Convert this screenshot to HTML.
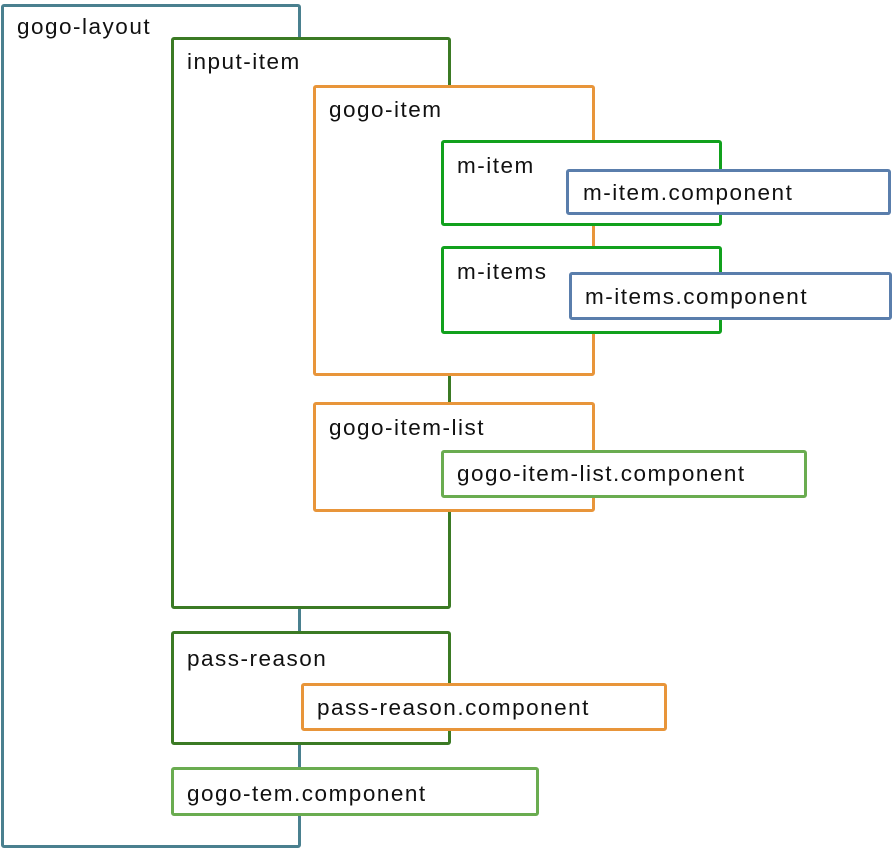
<!DOCTYPE html>
<html><head><meta charset="utf-8"><style>
body{margin:0;width:894px;height:850px;background:#fff;position:relative;overflow:hidden;font-family:"Liberation Sans",sans-serif;}
.b{position:absolute;box-sizing:border-box;border:3.5px solid;background:#fff;border-radius:3px;}
.t{position:absolute;font-size:22.5px;letter-spacing:1.5px;line-height:24px;color:#111;white-space:nowrap;}
</style></head><body>
<div class="b" style="left:1px;top:4px;width:300px;height:844px;border-color:#4a808f"></div>
<span class="t" style="left:17px;top:15px">gogo-layout</span>

<div class="b" style="left:171px;top:37px;width:280px;height:572px;border-color:#3b7a24"></div>
<span class="t" style="left:187px;top:50px">input-item</span>

<div class="b" style="left:313px;top:85px;width:282px;height:291px;border-color:#e8953a"></div>
<span class="t" style="left:329px;top:98px">gogo-item</span>

<div class="b" style="left:441px;top:140px;width:281px;height:86px;border-color:#11a11d"></div>
<span class="t" style="left:457px;top:154px">m-item</span>
<div class="b" style="left:566px;top:169px;width:325px;height:46px;border-color:#5a7eac"></div>
<span class="t" style="left:583px;top:181px">m-item.component</span>

<div class="b" style="left:441px;top:246px;width:281px;height:88px;border-color:#11a11d"></div>
<span class="t" style="left:457px;top:260px">m-items</span>
<div class="b" style="left:569px;top:272px;width:323px;height:48px;border-color:#5a7eac"></div>
<span class="t" style="left:585px;top:285px">m-items.component</span>

<div class="b" style="left:313px;top:402px;width:282px;height:110px;border-color:#e8953a"></div>
<span class="t" style="left:329px;top:416px">gogo-item-list</span>
<div class="b" style="left:441px;top:450px;width:366px;height:48px;border-color:#6aac50"></div>
<span class="t" style="left:457px;top:462px">gogo-item-list.component</span>

<div class="b" style="left:171px;top:631px;width:280px;height:114px;border-color:#3b7a24"></div>
<span class="t" style="left:187px;top:647px">pass-reason</span>
<div class="b" style="left:301px;top:683px;width:366px;height:48px;border-color:#e8953a"></div>
<span class="t" style="left:317px;top:696px">pass-reason.component</span>

<div class="b" style="left:171px;top:767px;width:368px;height:49px;border-color:#6aac50"></div>
<span class="t" style="left:187px;top:782px">gogo-tem.component</span>
</body></html>
